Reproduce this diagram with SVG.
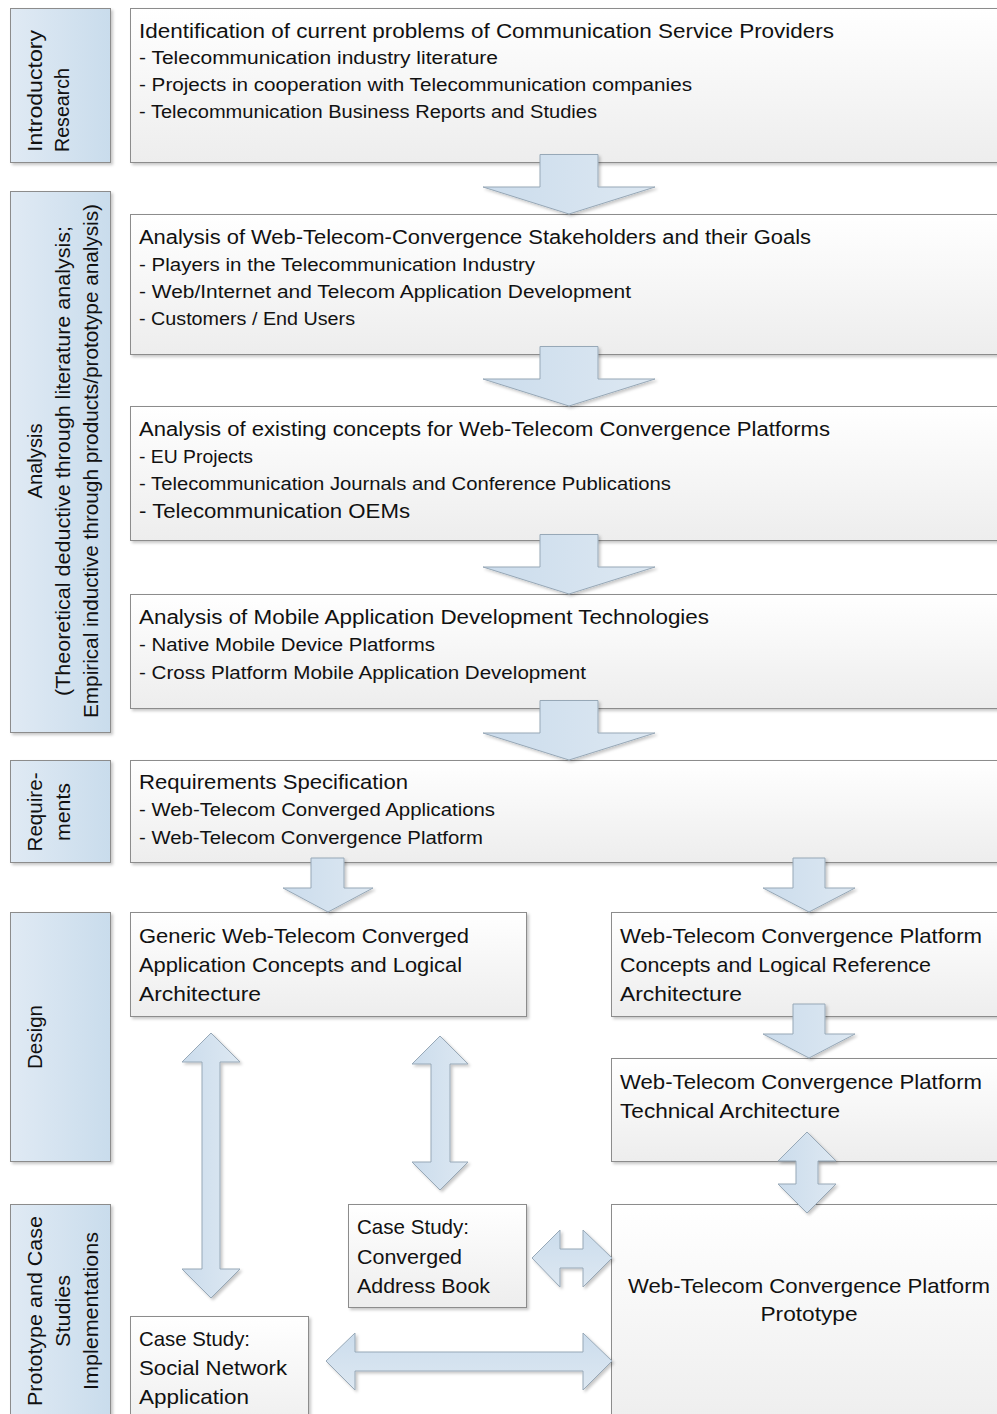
<svg xmlns="http://www.w3.org/2000/svg" width="997" height="1414" viewBox="0 0 997 1414">
  <defs>
    <linearGradient id="phaseFill" x1="0" y1="0" x2="1" y2="0">
      <stop offset="0" stop-color="#e0eaf4"/>
      <stop offset="1" stop-color="#c9dcec"/>
    </linearGradient>
    <linearGradient id="boxFill" x1="0" y1="0" x2="0" y2="1">
      <stop offset="0" stop-color="#ffffff"/>
      <stop offset="1" stop-color="#ededed"/>
    </linearGradient>
    <linearGradient id="arrowFill" x1="0" y1="0" x2="1" y2="0">
      <stop offset="0" stop-color="#cbdcec"/>
      <stop offset="1" stop-color="#dde8f2"/>
    </linearGradient>
    <linearGradient id="arrowFillV" x1="0" y1="0" x2="0" y2="1">
      <stop offset="0" stop-color="#cbdcec"/>
      <stop offset="1" stop-color="#dde8f2"/>
    </linearGradient>
    <filter id="shadow" x="-5%" y="-5%" width="115%" height="115%">
      <feDropShadow dx="2" dy="2" stdDeviation="1.5" flood-color="#000" flood-opacity="0.22"/>
    </filter>
  </defs>
  <style>
    .phase { fill: url(#phaseFill); stroke: #8c8c8c; stroke-width: 1; filter: url(#shadow); }
    .box { fill: url(#boxFill); stroke: #8c8c8c; stroke-width: 1; filter: url(#shadow); }
    .arrow { fill: url(#arrowFill); stroke: #97a8b7; stroke-width: 1; filter: url(#shadow); }
    .arrowV { fill: url(#arrowFillV); stroke: #97a8b7; stroke-width: 1; filter: url(#shadow); }
    text { font-family: "Liberation Sans", Arial, sans-serif; fill: #111; }
    .title { font-size: 19.5px; }
    .sub { font-size: 17.5px; }
    .big { font-size: 21px; }
    .label { font-size: 20.5px; }
  </style>

  <rect width="997" height="1414" fill="#ffffff"/>

  <!-- phase column -->
  <g id="phase-intro">
    <rect class="phase" x="10.5" y="8.5" width="100" height="154"/>
    <text class="label" transform="translate(42,152) rotate(-90)" textLength="122" lengthAdjust="spacingAndGlyphs">Introductory</text>
    <text class="label" transform="translate(69,152) rotate(-90)" textLength="84" lengthAdjust="spacingAndGlyphs">Research</text>
  </g>
  <g id="phase-analysis">
    <rect class="phase" x="10.5" y="191.5" width="100" height="541"/>
    <text class="label" text-anchor="middle" transform="translate(42,461) rotate(-90)" textLength="75" lengthAdjust="spacingAndGlyphs">Analysis</text>
    <text class="label" text-anchor="middle" transform="translate(70,461) rotate(-90)" textLength="470" lengthAdjust="spacingAndGlyphs">(Theoretical deductive through literature analysis;</text>
    <text class="label" text-anchor="middle" transform="translate(98,461) rotate(-90)" textLength="514" lengthAdjust="spacingAndGlyphs">Empirical inductive through products/prototype analysis)</text>
  </g>
  <g id="phase-requirements">
    <rect class="phase" x="10.5" y="760.5" width="100" height="102"/>
    <text class="label" text-anchor="middle" transform="translate(42,812) rotate(-90)" textLength="79" lengthAdjust="spacingAndGlyphs">Require-</text>
    <text class="label" text-anchor="middle" transform="translate(70,812) rotate(-90)" textLength="58" lengthAdjust="spacingAndGlyphs">ments</text>
  </g>
  <g id="phase-design">
    <rect class="phase" x="10.5" y="912.5" width="100" height="249"/>
    <text class="label" text-anchor="middle" transform="translate(42,1037) rotate(-90)" textLength="64" lengthAdjust="spacingAndGlyphs">Design</text>
  </g>
  <g id="phase-prototype">
    <rect class="phase" x="10.5" y="1204.5" width="100" height="230"/>
    <text class="label" text-anchor="middle" transform="translate(42,1311) rotate(-90)" textLength="190" lengthAdjust="spacingAndGlyphs">Prototype and Case</text>
    <text class="label" text-anchor="middle" transform="translate(70,1311) rotate(-90)" textLength="72" lengthAdjust="spacingAndGlyphs">Studies</text>
    <text class="label" text-anchor="middle" transform="translate(98,1311) rotate(-90)" textLength="158" lengthAdjust="spacingAndGlyphs">Implementations</text>
  </g>

  <!-- research steps -->
  <g id="step-problems">
    <rect class="box" x="130.5" y="8.5" width="875" height="154"/>
    <text class="title" x="139" y="38" textLength="695" lengthAdjust="spacingAndGlyphs">Identification of current problems of Communication Service Providers</text>
    <text class="sub" x="139" y="64" textLength="359" lengthAdjust="spacingAndGlyphs">- Telecommunication industry literature</text>
    <text class="sub" x="139" y="91" textLength="553" lengthAdjust="spacingAndGlyphs">- Projects in cooperation with Telecommunication companies</text>
    <text class="sub" x="139" y="118" textLength="458" lengthAdjust="spacingAndGlyphs">- Telecommunication Business Reports and Studies</text>
  </g>
  <g id="step-stakeholders">
    <rect class="box" x="130.5" y="214.5" width="875" height="140"/>
    <text class="title" x="139" y="244" textLength="672" lengthAdjust="spacingAndGlyphs">Analysis of Web-Telecom-Convergence Stakeholders and their Goals</text>
    <text class="sub" x="139" y="271" textLength="396" lengthAdjust="spacingAndGlyphs">- Players in the Telecommunication Industry</text>
    <text class="sub" x="139" y="298" textLength="492" lengthAdjust="spacingAndGlyphs">- Web/Internet and Telecom Application Development</text>
    <text class="sub" x="139" y="325" textLength="216" lengthAdjust="spacingAndGlyphs">- Customers / End Users</text>
  </g>
  <g id="step-concepts">
    <rect class="box" x="130.5" y="406.5" width="875" height="134"/>
    <text class="title" x="139" y="436" textLength="691" lengthAdjust="spacingAndGlyphs">Analysis of existing concepts for Web-Telecom Convergence Platforms</text>
    <text class="sub" x="139" y="463" textLength="114" lengthAdjust="spacingAndGlyphs">- EU Projects</text>
    <text class="sub" x="139" y="490" textLength="532" lengthAdjust="spacingAndGlyphs">- Telecommunication Journals and Conference Publications</text>
    <text class="title" x="139" y="518" textLength="271" lengthAdjust="spacingAndGlyphs">- Telecommunication OEMs</text>
  </g>
  <g id="step-mobile">
    <rect class="box" x="130.5" y="594.5" width="875" height="114"/>
    <text class="title" x="139" y="624" textLength="570" lengthAdjust="spacingAndGlyphs">Analysis of Mobile Application Development Technologies</text>
    <text class="sub" x="139" y="651" textLength="296" lengthAdjust="spacingAndGlyphs">- Native Mobile Device Platforms</text>
    <text class="sub" x="139" y="679" textLength="447" lengthAdjust="spacingAndGlyphs">- Cross Platform Mobile Application Development</text>
  </g>
  <g id="step-requirements">
    <rect class="box" x="130.5" y="760.5" width="875" height="102"/>
    <text class="title" x="139" y="789" textLength="269" lengthAdjust="spacingAndGlyphs">Requirements Specification</text>
    <text class="sub" x="139" y="816" textLength="356" lengthAdjust="spacingAndGlyphs">- Web-Telecom Converged Applications</text>
    <text class="sub" x="139" y="844" textLength="344" lengthAdjust="spacingAndGlyphs">- Web-Telecom Convergence Platform</text>
  </g>

  <!-- design -->
  <g id="design-application">
    <rect class="box" x="130.5" y="912.5" width="396" height="104"/>
    <text class="big" x="139" y="943" textLength="330" lengthAdjust="spacingAndGlyphs">Generic Web-Telecom Converged</text>
    <text class="big" x="139" y="972" textLength="323" lengthAdjust="spacingAndGlyphs">Application Concepts and Logical</text>
    <text class="big" x="139" y="1001" textLength="122" lengthAdjust="spacingAndGlyphs">Architecture</text>
  </g>
  <g id="design-platform-concepts">
    <rect class="box" x="611.5" y="912.5" width="395" height="104"/>
    <text class="big" x="620" y="943" textLength="362" lengthAdjust="spacingAndGlyphs">Web-Telecom Convergence Platform</text>
    <text class="big" x="620" y="972" textLength="311" lengthAdjust="spacingAndGlyphs">Concepts and Logical Reference</text>
    <text class="big" x="620" y="1001" textLength="122" lengthAdjust="spacingAndGlyphs">Architecture</text>
  </g>
  <g id="design-platform-technical">
    <rect class="box" x="611.5" y="1058.5" width="395" height="103"/>
    <text class="big" x="620" y="1089" textLength="362" lengthAdjust="spacingAndGlyphs">Web-Telecom Convergence Platform</text>
    <text class="big" x="620" y="1118" textLength="220" lengthAdjust="spacingAndGlyphs">Technical Architecture</text>
  </g>

  <!-- prototype and case studies -->
  <g id="platform-prototype">
    <rect class="box" x="611.5" y="1204.5" width="395" height="230"/>
    <text class="big" x="809" y="1293" text-anchor="middle" textLength="362" lengthAdjust="spacingAndGlyphs">Web-Telecom Convergence Platform</text>
    <text class="big" x="809" y="1321" text-anchor="middle" textLength="97" lengthAdjust="spacingAndGlyphs">Prototype</text>
  </g>
  <g id="case-address-book">
    <rect class="box" x="348.5" y="1204.5" width="178" height="103"/>
    <text class="big" x="357" y="1234" textLength="112" lengthAdjust="spacingAndGlyphs">Case Study:</text>
    <text class="big" x="357" y="1264" textLength="105" lengthAdjust="spacingAndGlyphs">Converged</text>
    <text class="big" x="357" y="1293" textLength="133" lengthAdjust="spacingAndGlyphs">Address Book</text>
  </g>
  <g id="case-social-network">
    <rect class="box" x="130.5" y="1316.5" width="178" height="120"/>
    <text class="big" x="139" y="1346" textLength="111" lengthAdjust="spacingAndGlyphs">Case Study:</text>
    <text class="big" x="139" y="1375" textLength="148" lengthAdjust="spacingAndGlyphs">Social Network</text>
    <text class="big" x="139" y="1404" textLength="110" lengthAdjust="spacingAndGlyphs">Application</text>
  </g>

  <!-- block arrows -->
  <g id="connectors">
    <path class="arrow" d="M540,154.5 H598 V187 H655 L569,214 L483,187 H540 Z"/>
    <path class="arrow" d="M540,346.5 H598 V379 H655 L569,406 L483,379 H540 Z"/>
    <path class="arrow" d="M540,534.5 H598 V567 H655 L569,594 L483,567 H540 Z"/>
    <path class="arrow" d="M540,700.5 H598 V733 H655 L569,760 L483,733 H540 Z"/>
    <path class="arrow" d="M311,858 H344 V888 H373 L328,912 L283,888 H311 Z"/>
    <path class="arrow" d="M793,858 H825 V888 H855 L809,912 L763,888 H793 Z"/>
    <path class="arrow" d="M793,1004 H825 V1034 H855 L809,1058 L763,1034 H793 Z"/>
    <path class="arrow" d="M211,1033 L240,1062 H220 V1269 H240 L211,1298 L182,1269 H202 V1062 H182 Z"/>
    <path class="arrow" d="M440,1036 L468,1064 H450 V1162 H468 L440,1190 L412,1162 H431 V1064 H412 Z"/>
    <path class="arrow" d="M807,1132 L836,1161 H818 V1184 H836 L807,1213 L778,1184 H796 V1161 H778 Z"/>
    <path class="arrowV" d="M532,1258 L560,1230 V1249 H583 V1230 L612,1258 L583,1287 V1268 H560 V1287 Z"/>
    <path class="arrowV" d="M326,1361 L355,1333 V1352 H583 V1333 L612,1361 L583,1390 V1371 H355 V1390 Z"/>
  </g>
</svg>
